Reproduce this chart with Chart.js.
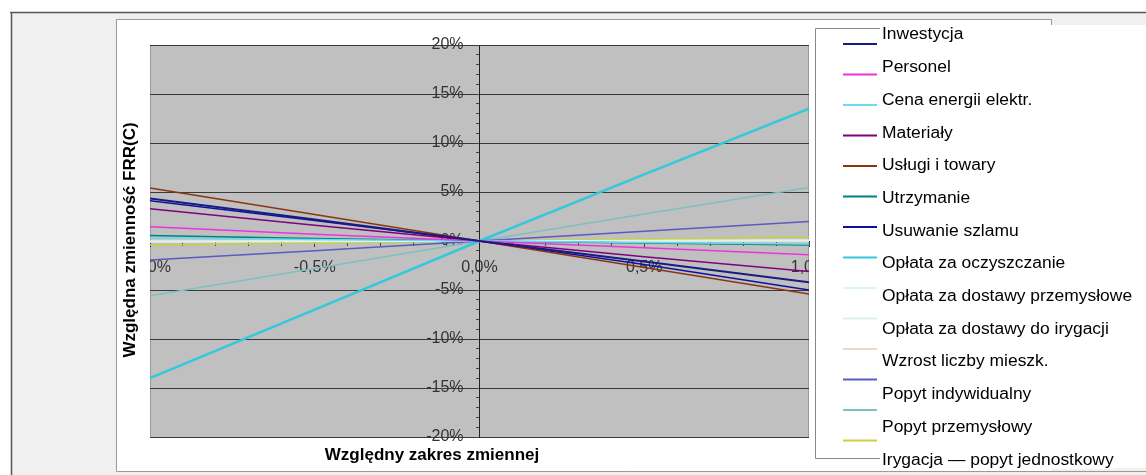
<!DOCTYPE html>
<html lang="pl">
<head>
<meta charset="utf-8">
<title>Analiza wrażliwości FRR(C)</title>
<script src="https://cdn.jsdelivr.net/npm/chart.js@4.4.1/dist/chart.umd.min.js"></script>
<style>
  html, body { margin: 0; padding: 0; background: #fff; }
  #wrap { position: relative; width: 1146px; height: 475px; }
</style>
</head>
<body>
<div id="wrap"><canvas id="myChart" width="1146" height="475"></canvas></div>
<script>
// względna zmiana zmiennej (%) i wartości osi
const zakres = [-1, -0.5, 0, 0.5, 1];
const osX = [-1, -0.5, 0, 0.5, 1];
const osY = [-20, -15, -10, -5, 0, 5, 10, 15, 20];

const nazwy = [
    'Inwestycja',
    'Personel',
    'Cena energii elektr.',
    'Materiały',
    'Usługi i towary',
    'Utrzymanie',
    'Usuwanie szlamu',
    'Opłata za oczyszczanie',
    'Opłata za dostawy przemysłowe',
    'Opłata za dostawy do irygacji',
    'Wzrost liczby mieszk.',
    'Popyt indywidualny',
    'Popyt przemysłowy',
    'Irygacja — popyt jednostkowy'
];

// zmiana FRR(C) w % dla kolejnych punktów zakresu
const inwestycja      = [4.35, 2.2, 0, -2.1, -4.2];
const personel        = [1.45, 0.7, 0, -0.7, -1.4];
const cenaEnergii     = [0.3, 0.15, 0, -0.15, -0.3];
const materialy       = [3.3, 1.6, 0, -1.6, -3.1];
const uslugi          = [5.4, 2.7, 0, -2.7, -5.4];
const utrzymanie      = [0.55, 0.25, 0, -0.2, -0.4];
const szlam           = [4.1, 2.1, 0, -2.4, -5.0];
const oplataOczysz    = [-14.0, -7.0, 0, 6.8, 13.5];
const oplataPrzem     = [-0.1, -0.05, 0, 0.05, 0.1];
const oplataIrygacja  = [-0.05, -0.02, 0, 0.02, 0.05];
const wzrostMieszk    = [0.05, 0.02, 0, -0.02, -0.05];
const popytIndyw      = [-1.95, -1.0, 0, 1.0, 2.0];
const popytPrzem      = [-5.6, -2.8, 0, 2.75, 5.45];
const irygacja        = [-0.4, -0.2, 0, 0.2, 0.4];

const serie = [inwestycja, personel, cenaEnergii, materialy, uslugi, utrzymanie, szlam,
    oplataOczysz, oplataPrzem, oplataIrygacja, wzrostMieszk, popytIndyw, popytPrzem, irygacja];

const kolory = ['#1a1a80', '#ee33dd', '#66dcec', '#800080', '#8b3510', '#008080', '#1010a0',
    '#33c8dc', '#d8f4f4', '#dcf0ec', '#f0d8c8', '#5a5ac0', '#7cc0c0', '#c8d040'];
const grubosci = [2, 1.5, 1.5, 1.5, 1.5, 1.5, 1.5, 2.5, 1.5, 1.5, 1.5, 1.5, 1.5, 1.5];

const FONT = 'Arial, "Liberation Sans", sans-serif';

window.onload = function () {

const ramka = {
    id: 'ramka',
    beforeDraw(chart) {
        const {ctx, width, height, chartArea: {left, top, right, bottom}} = chart;
        ctx.save();
        ctx.fillStyle = '#fff';
        ctx.fillRect(0, 0, width, height);
        ctx.fillStyle = '#f0f0f0';
        ctx.fillRect(11, 12, width - 11, height - 12);
        ctx.fillStyle = '#fff';
        ctx.fillRect(116, 19, 1051 - 116, 471 - 19);
        ctx.fillRect(1051, 25, width - 1051, 468 - 25);

        ctx.strokeStyle = '#555';
        ctx.lineWidth = 1.5;
        ctx.beginPath();
        ctx.moveTo(10, 12.5); ctx.lineTo(width, 12.5);
        ctx.moveTo(11.5, 12); ctx.lineTo(11.5, height);
        ctx.stroke();

        ctx.strokeStyle = '#999';
        ctx.lineWidth = 1;
        ctx.beginPath();
        ctx.moveTo(116.5, 471.5); ctx.lineTo(116.5, 19.5); ctx.lineTo(1051.5, 19.5); ctx.lineTo(1051.5, 25);
        ctx.moveTo(116.5, 471.5); ctx.lineTo(width, 471.5);
        ctx.stroke();

        // szare tło obszaru wykresu
        ctx.fillStyle = '#c0c0c0';
        ctx.fillRect(left, top, right - left, bottom - top);
        ctx.strokeStyle = '#999';
        ctx.strokeRect(left + 0.5, top + 0.5, right - left - 1, bottom - top);
        ctx.restore();
    }
};

// etykiety osi X obcinane do obszaru wykresu
const przytnij = {
    id: 'przytnij',
    afterLayout(chart) {
        const s = chart.scales.x;
        if (s._przyciete) return;
        const orig = s.drawLabels.bind(s);
        s.drawLabels = function (area) {
            const ctx = chart.ctx;
            ctx.save();
            ctx.beginPath();
            ctx.rect(area.left, 0, area.right - area.left, chart.height);
            ctx.clip();
            orig(area);
            ctx.restore();
        };
        s._przyciete = true;
    }
};

const opisy = {
    id: 'opisy',
    afterDraw(chart) {
        const {ctx} = chart;
        ctx.save();
        ctx.fillStyle = '#000';
        ctx.font = 'bold 17px ' + FONT;
        ctx.textAlign = 'center';
        ctx.textBaseline = 'middle';
        ctx.fillText('Względny zakres zmiennej', 432, 455);
        ctx.translate(130, 240);
        ctx.rotate(-Math.PI / 2);
        ctx.fillText('Względna zmienność FRR(C)', 0, 0);
        ctx.restore();

        // legenda
        ctx.save();
        ctx.strokeStyle = '#888';
        ctx.lineWidth = 1;
        ctx.beginPath();
        ctx.moveTo(815.5, 28.5); ctx.lineTo(815.5, 458.5);
        ctx.moveTo(815.5, 28.5); ctx.lineTo(880, 28.5);
        ctx.moveTo(815.5, 458.5); ctx.lineTo(880, 458.5);
        ctx.stroke();
        ctx.font = '16px ' + FONT;
        ctx.textBaseline = 'middle';
        chart.data.datasets.forEach((ds, i) => {
            const sy = 44 + 30.5 * i;
            ctx.strokeStyle = ds.borderColor;
            ctx.lineWidth = 2;
            ctx.beginPath();
            ctx.moveTo(843, sy); ctx.lineTo(877, sy);
            ctx.stroke();
            const ty = 35 + 32.7 * i;
            const w = ctx.measureText(ds.label).width * 1.09;
            ctx.fillStyle = '#fff';
            ctx.fillRect(880, ty - 9, w + 4, 18);
            ctx.save();
            ctx.translate(882, ty);
            ctx.scale(1.09, 1);
            ctx.fillStyle = '#000';
            ctx.fillText(ds.label, 0, 0);
            ctx.restore();
        });
        ctx.restore();
    }
};

const myChart = new Chart(document.getElementById('myChart').getContext('2d'), {
    type: 'line',
    data: {
        datasets: nazwy.map((n, i) => ({
            label: n,
            data: serie[i].map((v, j) => ({x: zakres[j], y: v})),
            borderColor: kolory[i],
            backgroundColor: kolory[i],
            borderWidth: grubosci[i],
            pointRadius: 0,
            tension: 0
        }))
    },
    options: {
        responsive: false,
        animation: false,
        devicePixelRatio: 1,
        layout: {
            padding: {left: 150, top: 45, right: 337, bottom: 38}
        },
        plugins: {
            legend: {display: false},
            tooltip: {enabled: false}
        },
        scales: {
            x: {
                type: 'linear',
                position: 'center',
                min: -1,
                max: 1,
                afterBuildTicks: s => { s.ticks = osX.map(v => ({value: v})); },
                ticks: {
                    padding: 12,
                    color: '#333',
                    font: {family: FONT, size: 16},
                    maxRotation: 0,
                    callback: v => v.toFixed(1).replace('.', ',') + '%'
                },
                grid: {drawOnChartArea: false, tickLength: 5, color: '#333'},
                border: {color: '#222', width: 1}
            },
            xMinor: {
                type: 'linear',
                axis: 'x',
                position: 'center',
                min: -1,
                max: 1,
                ticks: {display: false, stepSize: 0.1},
                grid: {drawOnChartArea: false, tickLength: 4, color: '#444'},
                border: {display: false}
            },
            y: {
                type: 'linear',
                position: 'center',
                min: -20,
                max: 20,
                afterBuildTicks: s => { s.ticks = osY.map(v => ({value: v})); },
                ticks: {
                    padding: 12,
                    color: '#333',
                    font: {family: FONT, size: 16},
                    callback: v => v + '%'
                },
                grid: {color: '#3a3a3a', lineWidth: 1, tickLength: 4},
                border: {color: '#222', width: 1}
            },
            yMinor: {
                type: 'linear',
                axis: 'y',
                position: 'center',
                min: -20,
                max: 20,
                ticks: {display: false, stepSize: 1},
                grid: {drawOnChartArea: false, tickLength: 4, color: '#444'},
                border: {display: false}
            }
        }
    },
    plugins: [ramka, przytnij, opisy]
});

}
</script>
</body>
</html>
